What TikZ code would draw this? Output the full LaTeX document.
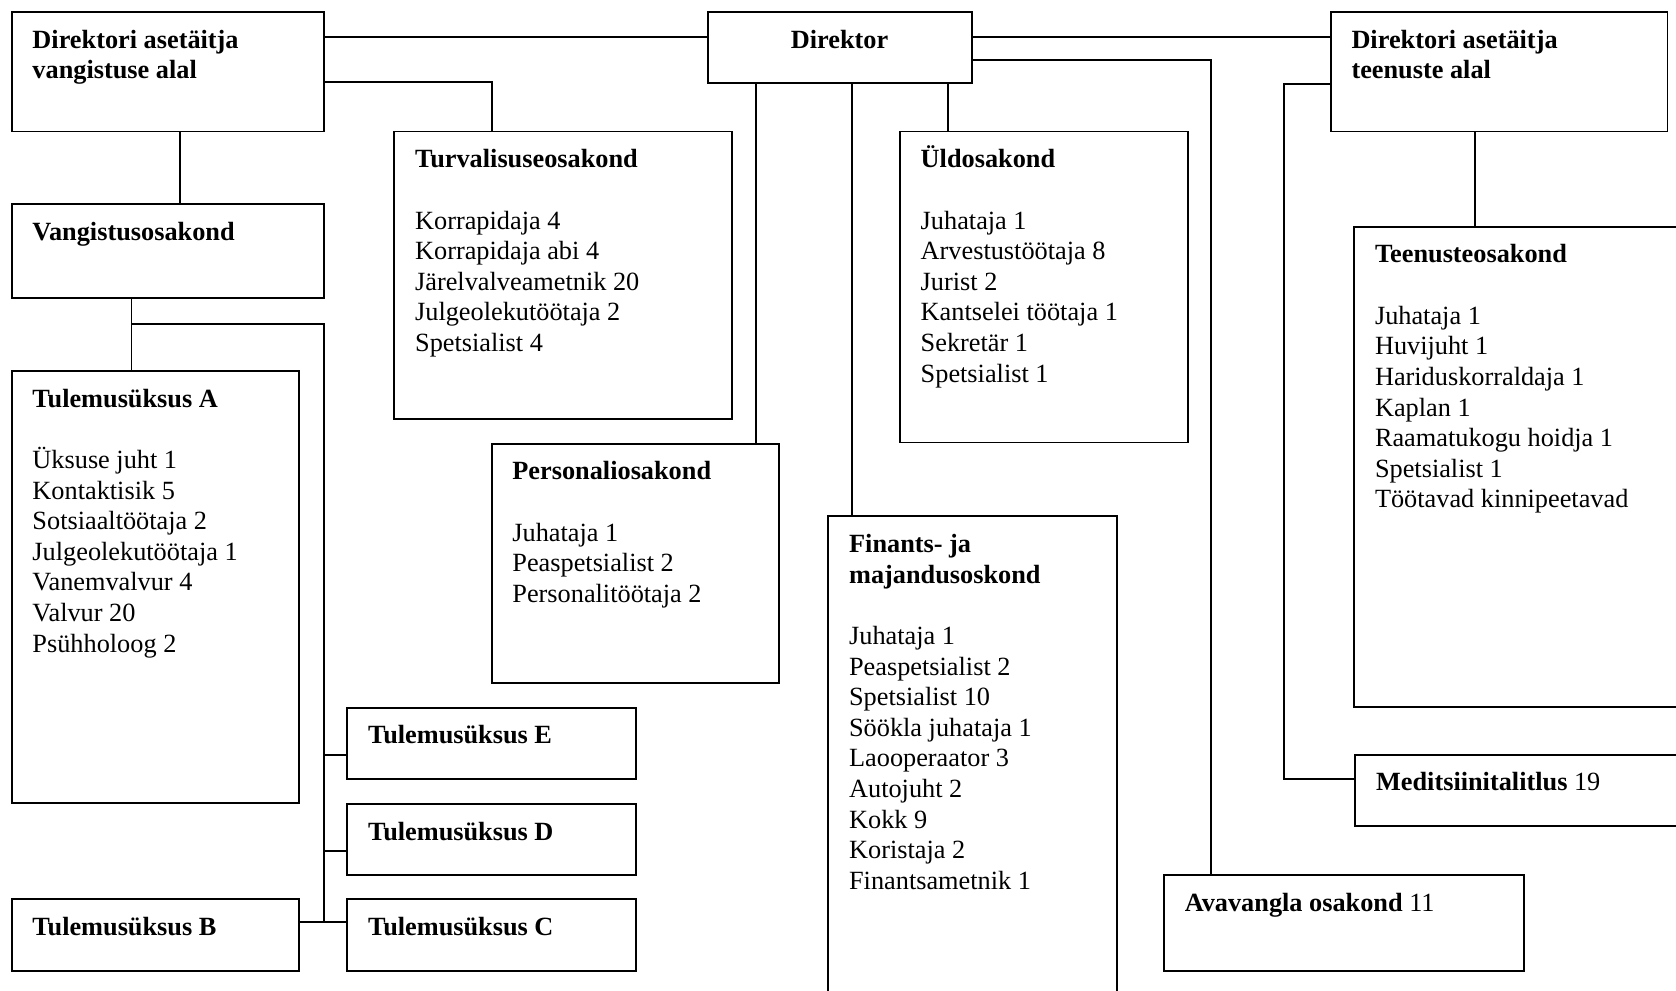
\documentclass[tikz,border=0pt]{standalone}
\usepackage{fontspec}
\setmainfont{Liberation Serif}
\usetikzlibrary{fit}
\newcommand\orgbox[6]{%
  \node[orgrect, fit={(#2,#3)(#4,#5)}] (#1) {};
  \node[orgtext] (#1-t) at ([xshift=9.5pt,yshift=-17pt]#1.north west) {\begin{tabular}[t]{@{}l@{}}#6\end{tabular}};
}
\begin{document}
\begin{tikzpicture}[x=0.5pt,y=-0.5pt,
  orgrect/.style={draw=black, line width=0.9pt, inner sep=0pt, outer sep=0pt, rectangle},
  orgtext/.style={anchor=base west, inner sep=0pt, font=\fontsize{12.3}{14.32}\selectfont},
  conn/.style={draw=black, line width=0.9pt}]
\useasboundingbox (0,0) rectangle (1568,927);
\clip (0,0) rectangle (1568,927);

% boxes
\orgbox{dv}{11}{11}{303}{123}{\textbf{Direktori asetäitja}\\\textbf{vangistuse alal}}
\node[orgrect, fit={(662,11)(909,78)}] (dir) {};
\node[orgtext, anchor=base] (dir-t) at ([yshift=-17pt]dir.north) {\textbf{Direktor}};
\orgbox{dt}{1245}{11}{1560}{123}{\textbf{Direktori asetäitja}\\\textbf{teenuste alal}}
\orgbox{turv}{369}{123}{685}{392}{\textbf{Turvalisuseosakond}\\ \\Korrapidaja 4\\Korrapidaja abi 4\\Järelvalveametnik 20\\Julgeolekutöötaja 2\\Spetsialist 4}
\orgbox{uld}{842}{123}{1111}{414}{\textbf{Üldosakond}\\ \\Juhataja 1\\Arvestustöötaja 8\\Jurist 2\\Kantselei töötaja 1\\Sekretär 1\\Spetsialist 1}
\orgbox{vang}{11}{191}{303}{279}{\textbf{Vangistusosakond}}
\orgbox{teen}{1267}{212}{1600}{661}{\textbf{Teenusteosakond}\\ \\Juhataja 1\\Huvijuht 1\\Hariduskorraldaja 1\\Kaplan 1\\Raamatukogu hoidja 1\\Spetsialist 1\\Töötavad kinnipeetavad}
\orgbox{tula}{11}{347}{280}{751}{\textbf{Tulemusüksus A}\\ \\Üksuse juht 1\\Kontaktisik 5\\Sotsiaaltöötaja 2\\Julgeolekutöötaja 1\\Vanemvalvur 4\\Valvur 20\\Psühholoog 2}
\orgbox{pers}{460}{415}{729}{639}{\textbf{Personaliosakond}\\ \\Juhataja 1\\Peaspetsialist 2\\Personalitöötaja 2}
\orgbox{fin}{775}{483}{1045}{960}{\textbf{Finants- ja}\\\textbf{majandusoskond}\\ \\Juhataja 1\\Peaspetsialist 2\\Spetsialist 10\\Söökla juhataja 1\\Laooperaator 3\\Autojuht 2\\Kokk 9\\Koristaja 2\\Finantsametnik 1}
\orgbox{tule}{325}{662}{595}{729}{\textbf{Tulemusüksus E}}
\orgbox{tuld}{325}{752}{595}{819}{\textbf{Tulemusüksus D}}
\orgbox{tulb}{11}{841}{280}{908}{\textbf{Tulemusüksus B}}
\orgbox{tulc}{325}{841}{595}{908}{\textbf{Tulemusüksus C}}
\orgbox{medi}{1268}{706}{1600}{773}{\textbf{Meditsiinitalitlus} 19}
\orgbox{avav}{1089}{819}{1426}{908}{\textbf{Avavangla osakond} 11}

% routing levels
\coordinate (ya) at (0,35);
\coordinate (yb) at (0,77);
\coordinate (yc) at (0,56);
\coordinate (yd) at (0,79);
\coordinate (ye) at (0,706);
\coordinate (yf) at (0,796);
\coordinate (yg) at (0,863);
\coordinate (yh) at (0,303);
\coordinate (ym) at (0,729);
\coordinate (xt) at (460,0);
\coordinate (xv) at (168,0);
\coordinate (xa) at (123,0);
\coordinate (xbus) at (303,0);
\coordinate (xp) at (707,0);
\coordinate (xf) at (797,0);
\coordinate (xu) at (887,0);
\coordinate (xav) at (1133,0);
\coordinate (xm) at (1201,0);
\coordinate (xte) at (1380,0);

% connectors
\draw[conn] (dv.east |- ya) -- (dir.west |- ya);
\draw[conn] (dir.east |- ya) -- (dt.west |- ya);
\draw[conn] (dv.east |- yb) -| (xt |- turv.north);
\draw[conn] (xv |- dv.south) -- (xv |- vang.north);
\draw[conn] (xa |- vang.south) -- (xa |- tula.north);
\draw[conn] (xa |- yh) -| (xbus |- yg);
\draw[conn] (xbus |- ye) -- (tule.west |- ye);
\draw[conn] (xbus |- yf) -- (tuld.west |- yf);
\draw[conn] (tulb.east |- yg) -- (tulc.west |- yg);
\draw[conn] (xp |- dir.south) -- (xp |- pers.north);
\draw[conn] (xf |- dir.south) -- (xf |- fin.north);
\draw[conn] (xu |- dir.south) -- (xu |- uld.north);
\draw[conn] (dir.east |- yc) -| (xav |- avav.north);
\draw[conn] (dt.west |- yd) -- (xm |- yd) -- (xm |- ym) -- (medi.west |- ym);
\draw[conn] (xte |- dt.south) -- (xte |- teen.north);
\end{tikzpicture}
\end{document}
